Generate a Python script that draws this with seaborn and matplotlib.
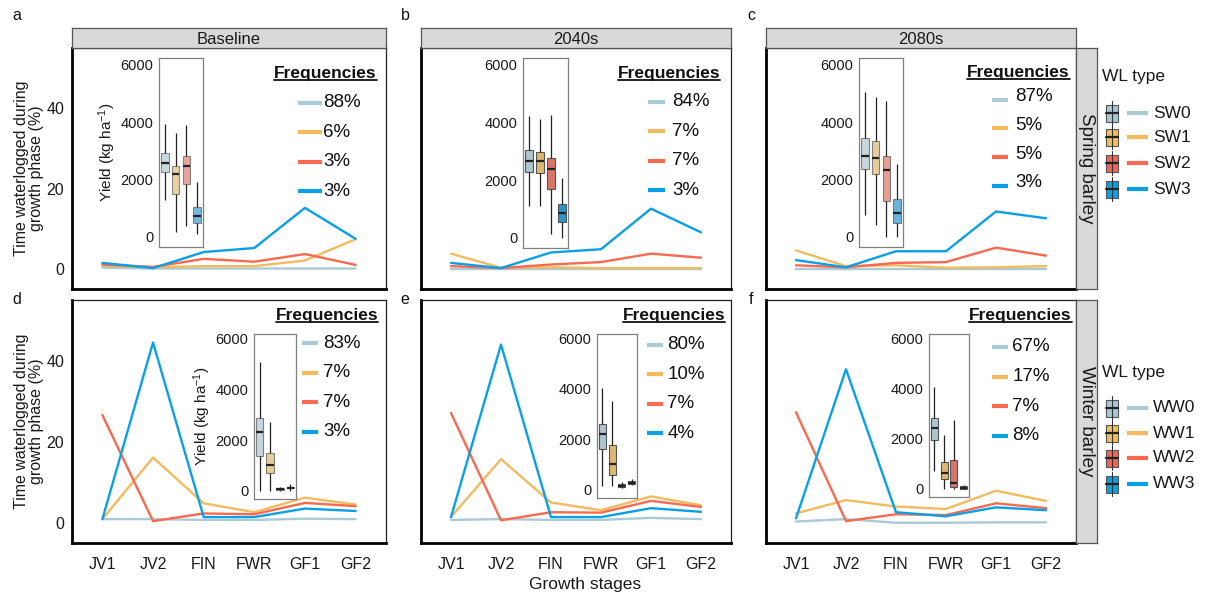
import numpy as np
import pandas as pd
import seaborn as sns
import matplotlib.pyplot as plt
from matplotlib.patches import Rectangle
from matplotlib.lines import Line2D

# Datos
stages = ['JV1', 'JV2', 'FIN', 'FWR', 'GF1', 'GF2']
periods = ['Baseline', '2040s', '2080s']
crops = ['Spring barley', 'Winter barley']
spring_types = ['SW0', 'SW1', 'SW2', 'SW3']
winter_types = ['WW0', 'WW1', 'WW2', 'WW3']

# tiempo anegado (%) por etapa, una fila por tipo
sw_base = [[0.3, 0.1, 0.1, 0.1, 0.1, 0.1],
           [0.8, 0.4, 0.7, 0.7, 2.1, 7.4],
           [1.1, 0.5, 2.5, 1.8, 3.7, 1.0],
           [1.5, 0.2, 4.2, 5.2, 15.2, 7.5]]
sw_2040 = [[0.1, 0.1, 0.1, 0.1, 0.1, 0.1],
           [3.8, 0.3, 0.4, 0.2, 0.2, 0.2],
           [0.7, 0.2, 1.1, 1.7, 3.8, 2.8],
           [1.5, 0.2, 4.1, 4.9, 15.0, 9.1]]
sw_2080 = [[0.1, 0.1, 0.1, 0.1, 0.1, 0.1],
           [4.6, 0.7, 0.9, 0.3, 0.4, 0.7],
           [0.9, 0.4, 1.5, 1.7, 5.3, 3.3],
           [2.2, 0.4, 4.4, 4.4, 14.3, 12.6]]
ww_base = [[0.9, 0.9, 0.7, 0.7, 1.0, 0.9],
           [0.9, 16.1, 4.8, 2.6, 6.2, 4.5],
           [26.6, 0.4, 2.3, 2.1, 4.9, 4.1],
           [0.9, 44.5, 1.4, 1.4, 3.5, 2.9]]
ww_2040 = [[0.7, 0.9, 0.7, 0.7, 1.2, 0.9],
           [1.4, 15.7, 5.0, 3.1, 6.5, 4.3],
           [27.1, 0.6, 2.6, 2.5, 5.4, 3.9],
           [1.4, 44.0, 1.4, 1.4, 3.6, 2.7]]
ww_2080 = [[0.3, 0.9, 0.0, 0.0, 0.1, 0.1],
           [2.3, 5.6, 4.0, 3.4, 7.9, 5.4],
           [27.3, 0.4, 2.1, 1.9, 4.8, 3.6],
           [1.1, 37.9, 2.6, 1.6, 3.8, 3.1]]

# frecuencias (%)
sw_freq = [[88, 6, 3, 3], [84, 7, 7, 3], [87, 5, 5, 3]]
ww_freq = [[83, 7, 7, 3], [80, 10, 7, 4], [67, 17, 7, 8]]

# rendimiento: min, q1, mediana, q3, max
sw_yield_base = [[1300, 2270, 2590, 2940, 3940], [180, 1510, 2180, 2460, 3630],
                 [380, 1860, 2480, 2840, 3900], [120, 470, 730, 1030, 1910]]
sw_yield_2040 = [[1120, 2270, 2660, 3050, 4220], [1120, 2240, 2660, 2990, 4110],
                 [120, 1690, 2380, 2770, 4280], [0, 540, 850, 1170, 2070]]
sw_yield_2080 = [[760, 2380, 2840, 3460, 5040], [410, 2190, 2750, 3340, 4870],
                 [0, 1270, 2330, 2840, 4740], [0, 470, 840, 1330, 2560]]
ww_yield_base = [[0, 1380, 2330, 2870, 5080], [0, 710, 1030, 1500, 2700],
                 [0, 30, 70, 130, 170], [0, 100, 130, 170, 260]]
ww_yield_2040 = [[170, 1630, 2200, 2590, 4020], [170, 580, 1040, 1780, 3500],
                 [90, 100, 160, 230, 310], [180, 230, 285, 350, 430]]
ww_yield_2080 = [[700, 1940, 2420, 2810, 4070], [0, 400, 630, 1090, 2160],
                 [0, 90, 240, 1160, 2730], [0, 10, 40, 110, 150]]

lines_all = [[sw_base, sw_2040, sw_2080], [ww_base, ww_2040, ww_2080]]
yield_all = [[sw_yield_base, sw_yield_2040, sw_yield_2080],
             [ww_yield_base, ww_yield_2040, ww_yield_2080]]
freq_all = [sw_freq, ww_freq]
types_all = [spring_types, winter_types]

line_colors = ['#A9CBD6', '#F3BA5E', '#F86A50', '#0AA0E6']
box_colors = ['#A8C8D3', '#F0BE5E', '#EF6656', '#0E9FE2']
box_alpha = [[0.65, 1.0, 0.7], [0.7, 1.0, 1.0]]

# Estilo
sns.set_theme(style='white')
plt.rcParams['font.family'] = ['Liberation Sans', 'DejaVu Sans']
plt.rcParams['mathtext.fontset'] = 'custom'
plt.rcParams['mathtext.rm'] = 'Liberation Sans'
plt.rcParams['mathtext.it'] = 'Liberation Sans:italic'

W, H = 1205, 597
fig = plt.figure(figsize=(W / 100, H / 100), dpi=100)


def px_axes(x0, y0, x1, y1, **kw):
    return fig.add_axes([x0 / W, 1 - y1 / H, (x1 - x0) / W, (y1 - y0) / H], **kw)


col_x = [(72, 386), (421, 731), (766, 1076)]
row_y = [(48, 289), (300, 543)]
inset_px = [[(159, 58, 203, 247), (523, 58, 568, 248), (859, 58, 903, 247)],
            [(254, 334, 296, 499), (597, 334, 637, 498), (929, 334, 969, 497)]]
inset_ylim = [(-350, 6240), (-320, 6170)]
# (derecha titulo, y titulo, x0 linea, x1 linea, x texto, y primero, paso, desfase linea)
freq_layout = [[(0.971, 0.896, 0.72, 0.796, 0.80, 0.772, 0.122, 0.0),
                (0.965, 0.896, 0.732, 0.787, 0.81, 0.776, 0.122, 0.0),
                (0.980, 0.900, 0.729, 0.781, 0.803, 0.800, 0.120, -0.014)],
               [(0.975, 0.938, 0.732, 0.783, 0.80, 0.823, 0.122, 0.0),
                (0.982, 0.938, 0.729, 0.781, 0.794, 0.815, 0.121, 0.0),
                (0.987, 0.935, 0.729, 0.781, 0.794, 0.807, 0.122, 0.0)]]
letters = [['a', 'b', 'c'], ['d', 'e', 'f']]
letter_px = [[(17, 15), (405, 15), (751, 15)], [(17, 300), (405, 300), (751, 300)]]

titles = []
for r in range(2):
    types = types_all[r]
    for c in range(3):
        x0, x1 = col_x[c]
        y0, y1 = row_y[r]
        ax = px_axes(x0, y0, x1, y1)
        df = pd.DataFrame({'stage': stages * 4,
                           'type': np.repeat(types, len(stages)),
                           'pct': np.ravel(lines_all[r][c])})
        sns.lineplot(data=df, x='stage', y='pct', hue='type', palette=line_colors,
                     linewidth=1.7, legend=False, sort=False, ax=ax)
        ax.set_xlim(-0.6, 5.6)
        ax.set_ylim(-5, 55)
        ax.set_yticks([0, 20, 40])
        ax.set_xlabel('')
        ax.set_ylabel('')
        for s in ax.spines.values():
            s.set_color('#222222')
            s.set_linewidth(0.9)
        ax.spines['left'].set_linewidth(2)
        ax.spines['bottom'].set_linewidth(2)
        ax.spines['left'].set_color('black')
        ax.spines['bottom'].set_color('black')
        ax.tick_params(direction='out', length=4, width=0.9, color='#333333',
                       labelsize=11.5, labelcolor='#1a1a1a', pad=1.5)
        ax.tick_params(axis='x', pad=6)
        if c > 0:
            ax.set_yticklabels([])
        else:
            ax.set_ylabel('Time waterlogged during\ngrowth phase (%)', fontsize=11.5,
                          color='#1a1a1a', linespacing=1.0)
            ax.yaxis.set_label_coords(-0.088, 0.5)
        if r == 0:
            ax.set_xticklabels([])

        # leyenda de frecuencias
        tr, ty, lx0, lx1, tx, yf, dy, loff = freq_layout[r][c]
        t = ax.text(tr, ty, 'Frequencies', transform=ax.transAxes, ha='right',
                    va='center', fontsize=12.5, fontweight='bold', color='#111111')
        titles.append(t)
        for k, f in enumerate(freq_all[r][c]):
            yy = yf - k * dy
            ax.plot([lx0, lx1], [yy + loff, yy + loff], transform=ax.transAxes,
                    color=line_colors[k], lw=3, solid_capstyle='butt', clip_on=False)
            ax.text(tx, yy, f'{f}%', transform=ax.transAxes, ha='left', va='center',
                    fontsize=13.5, color='#111111')

        # recuadro de rendimiento
        iax = px_axes(*inset_px[r][c])
        bdf = pd.DataFrame({'type': np.repeat(types, 5),
                            'yield': np.ravel(yield_all[r][c])})
        sns.boxplot(data=bdf, x='type', y='yield', hue='type', palette=box_colors,
                    whis=np.inf, width=0.72, linewidth=0.8, linecolor='#555555',
                    showcaps=False, legend=False, ax=iax,
                    medianprops=dict(color='#222222', linewidth=1.6),
                    whiskerprops=dict(color='#222222', linewidth=0.9),
                    boxprops=dict(alpha=box_alpha[r][c]))
        iax.set_xlim(-0.55, 3.55)
        iax.set_ylim(*inset_ylim[r])
        iax.set_yticks([0, 2000, 4000, 6000])
        iax.set_xticks([])
        iax.set_xlabel('')
        iax.set_facecolor('white')
        for s in iax.spines.values():
            s.set_color('#808080')
            s.set_linewidth(0.9)
        iax.tick_params(axis='y', direction='out', length=3, width=0.9, color='#333333',
                        labelsize=10.5, labelcolor='#1a1a1a', pad=1)
        if c == 0:
            iax.set_ylabel('Yield (kg ha$^{-1}$)', fontsize=11, color='#1a1a1a', labelpad=2)
        else:
            iax.set_ylabel('')

        # etiqueta del panel
        fig.text(letter_px[r][c][0] / W, 1 - letter_px[r][c][1] / H, letters[r][c],
                 ha='center', va='center', fontsize=11.5, color='#111111')

# tiras de facetas
for c in range(3):
    sax = px_axes(col_x[c][0], 28, col_x[c][1], 48)
    sax.set_facecolor('#D9D9D9')
    sax.set_xticks([])
    sax.set_yticks([])
    for s in sax.spines.values():
        s.set_color('#555555')
        s.set_linewidth(0.9)
    sax.text(0.5, 0.45, periods[c], ha='center', va='center', fontsize=12,
             color='#1a1a1a', transform=sax.transAxes)
for r in range(2):
    sax = px_axes(1076, row_y[r][0], 1097, row_y[r][1])
    sax.set_facecolor('#D9D9D9')
    sax.set_xticks([])
    sax.set_yticks([])
    for s in sax.spines.values():
        s.set_color('#555555')
        s.set_linewidth(0.9)
    sax.text(0.5, 0.5, crops[r], ha='center', va='center', rotation=-90,
             fontsize=13.5, color='#1a1a1a', transform=sax.transAxes)

fig.text(585 / W, 1 - 585 / H, 'Growth stages', ha='center', va='center',
         fontsize=12.5, color='#1a1a1a')

# leyenda WL type
oax = fig.add_axes([0, 0, 1, 1])
oax.set_xlim(0, W)
oax.set_ylim(H, 0)
oax.axis('off')
leg_title_y = [77, 373]
leg_entry_y = [[113, 137, 163, 189], [408, 433, 458, 484]]
for r in range(2):
    oax.text(1102, leg_title_y[r], 'WL type', ha='left', va='center', fontsize=12.5,
             color='#1a1a1a')
    for k, name in enumerate(types_all[r]):
        yy = leg_entry_y[r][k]
        oax.plot([1112, 1112], [yy - 12, yy + 12], color='#333333', lw=0.8)
        oax.add_patch(Rectangle((1106, yy - 8.5), 12, 17, facecolor=box_colors[k],
                                edgecolor='#555555', lw=0.8))
        oax.plot([1106, 1118], [yy, yy], color='#222222', lw=1.6)
        oax.plot([1127, 1148], [yy, yy], color=line_colors[k], lw=3,
                 solid_capstyle='butt')
        oax.text(1153, yy, name, ha='left', va='center', fontsize=12.5, color='#1a1a1a')

# subrayado de los titulos
fig.canvas.draw()
renderer = fig.canvas.get_renderer()
for t in titles:
    bb = t.get_window_extent(renderer)
    fig.add_artist(Line2D([bb.x0 / W, bb.x1 / W], [(bb.y0 + 1) / H] * 2,
                          transform=fig.transFigure, color='#111111', lw=1.3))

fig.savefig('out.png', dpi=100)
